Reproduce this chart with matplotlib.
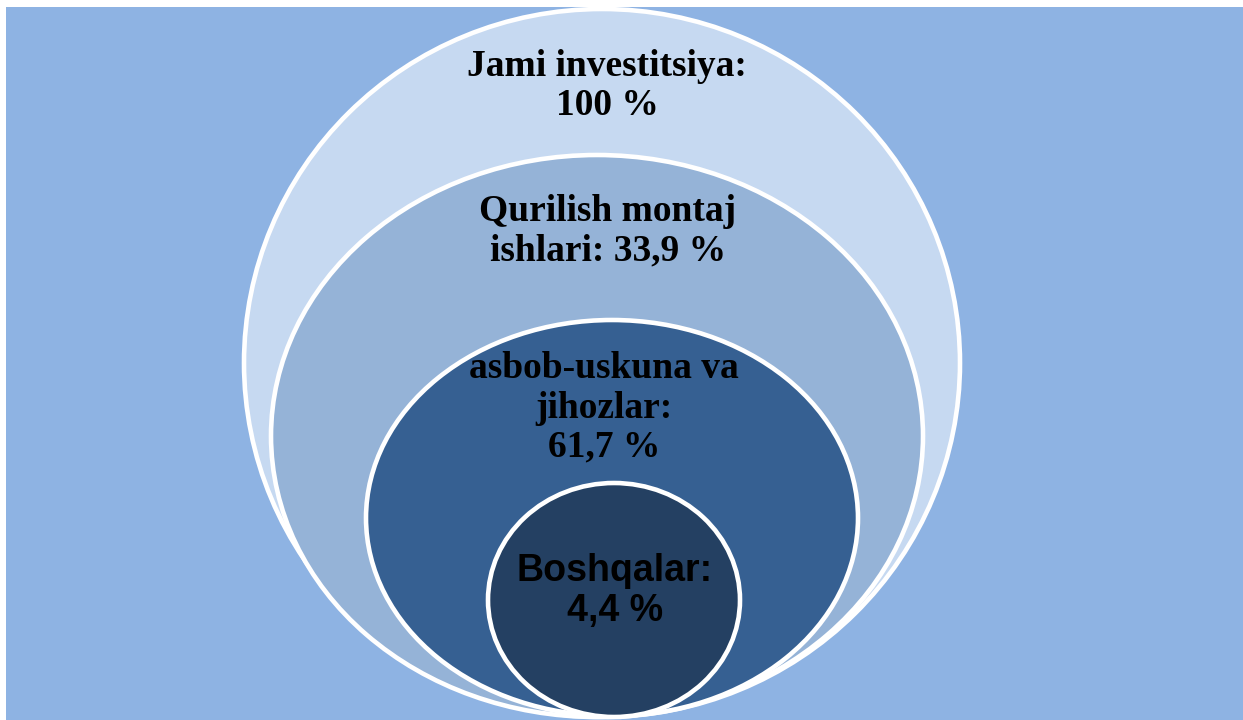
import matplotlib.pyplot as plt
from matplotlib.patches import Ellipse, Rectangle

# nested shares of investment (outer -> inner)
labels = ['Jami investitsiya:', 'Qurilish montaj\nishlari:', 'asbob-uskuna va\njihozlar:', 'Boshqalar:']
shares = [100, 33.9, 61.7, 4.4]
# label line break before the value?
value_newline = [True, False, True, True]

fills = ['#C6D9F1', '#95B3D7', '#366092', '#244062']
fonts = ['Liberation Serif', 'Liberation Serif', 'Liberation Serif', 'Liberation Sans']

# ellipse layout in pixels: centre x, centre y, width, height
ell_cx = [602, 597, 612, 614]
ell_cy = [363, 436, 518, 600]
ell_w = [716, 652, 492, 252]
ell_h = [708, 562, 396, 234]
txt_cx = [607, 608, 604, 615]
txt_cy = [86, 231, 408, 591]

fig = plt.figure(figsize=(12.43, 7.2), dpi=100)
ax = fig.add_axes([0, 0, 1, 1])
ax.set_xlim(0, 1243)
ax.set_ylim(720, 0)
ax.axis('off')

ax.add_patch(Rectangle((6, 7), 1243, 720, facecolor='#8EB3E3', edgecolor='none', zorder=0))

for i in range(len(labels)):
    ax.add_patch(Ellipse((ell_cx[i], ell_cy[i]), ell_w[i], ell_h[i],
                         facecolor=fills[i], edgecolor='white', lw=3.3, zorder=1 + i))
    val = ('%g' % shares[i]).replace('.', ',') + ' %'
    sep = '\n' if value_newline[i] else ' '
    ax.text(txt_cx[i], txt_cy[i], labels[i] + sep + val, ha='center', va='center',
            fontsize=27, fontweight='bold', family=fonts[i], color='black',
            linespacing=1.15, zorder=10)

fig.savefig('out.png', dpi=100)
